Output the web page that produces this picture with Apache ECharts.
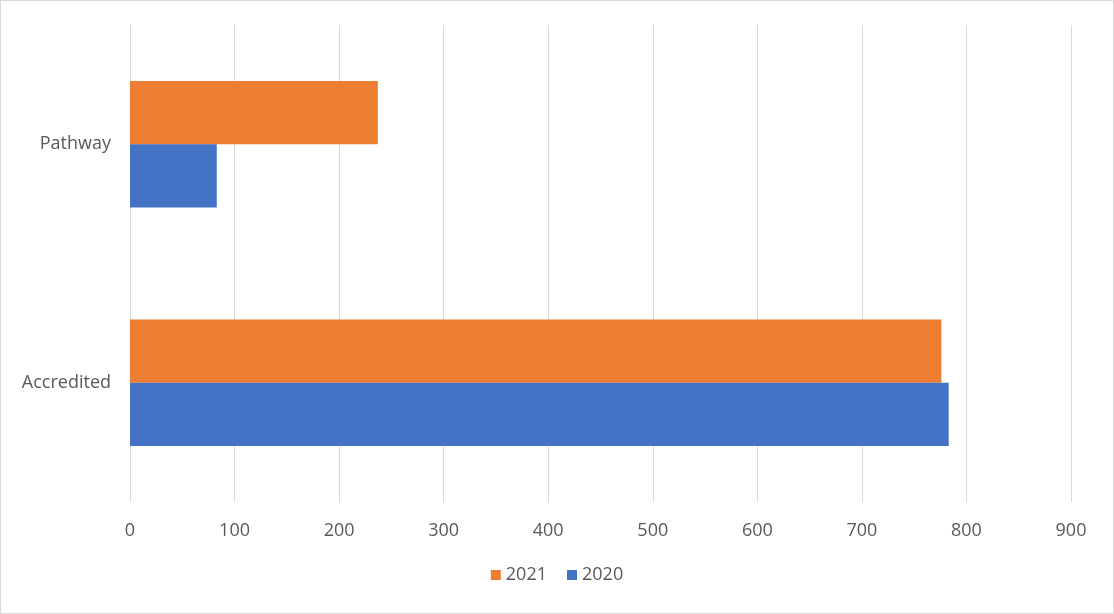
<!DOCTYPE html>
<html>
<head>
<meta charset="utf-8">
<script src="https://cdn.jsdelivr.net/npm/echarts@6/dist/echarts.min.js"></script>
<style>
  html, body { margin: 0; padding: 0; background: #fff; }
  #chart {
    width: 1112px;
    height: 612px;
    border: 1px solid #d9d9d9;
  }
</style>
</head>
<body>
<div id="chart"></div>
<script>
// categories bottom -> top (category y axis grows upward)
const categories = ['Accredited', 'Pathway'];
const seriesNames = ['2021', '2020'];
const values2021 = [776, 237];
const values2020 = [783, 83];
const xTicks = [0, 900, 100]; // min, max, step

const chart = echarts.init(document.getElementById('chart'));

const labelStyle = {
  color: '#595959',
  fontSize: 18,
  fontFamily: 'Open Sans, Liberation Sans, sans-serif'
};

const option = {
  animation: false,
  grid: { left: 129, right: 42, top: 24, bottom: 111 },
  legend: {
    data: seriesNames,
    bottom: 24,
    left: 'center',
    icon: 'rect',
    itemWidth: 10,
    itemHeight: 10,
    itemGap: 20,
    textStyle: Object.assign({}, labelStyle, { fontSize: 18 })
  },
  xAxis: {
    type: 'value',
    min: xTicks[0],
    max: xTicks[1],
    interval: xTicks[2],
    axisLine: { show: false },
    axisTick: { show: false },
    axisLabel: Object.assign({ margin: 20 }, labelStyle),
    splitLine: { lineStyle: { color: '#d9d9d9', width: 1 } }
  },
  yAxis: {
    type: 'category',
    data: categories,
    axisLine: { show: false },
    axisTick: { show: false },
    axisLabel: Object.assign({ margin: 19 }, labelStyle)
  },
  series: [
    {
      name: '2021',
      type: 'bar',
      data: values2021,
      barCategoryGap: '47%',
      barGap: '0%',
      itemStyle: { color: '#ED7D31' }
    },
    {
      name: '2020',
      type: 'bar',
      data: values2020,
      barCategoryGap: '47%',
      barGap: '0%',
      itemStyle: { color: '#4472C4' }
    }
  ]
};

chart.setOption(option);
</script>
</body>
</html>
